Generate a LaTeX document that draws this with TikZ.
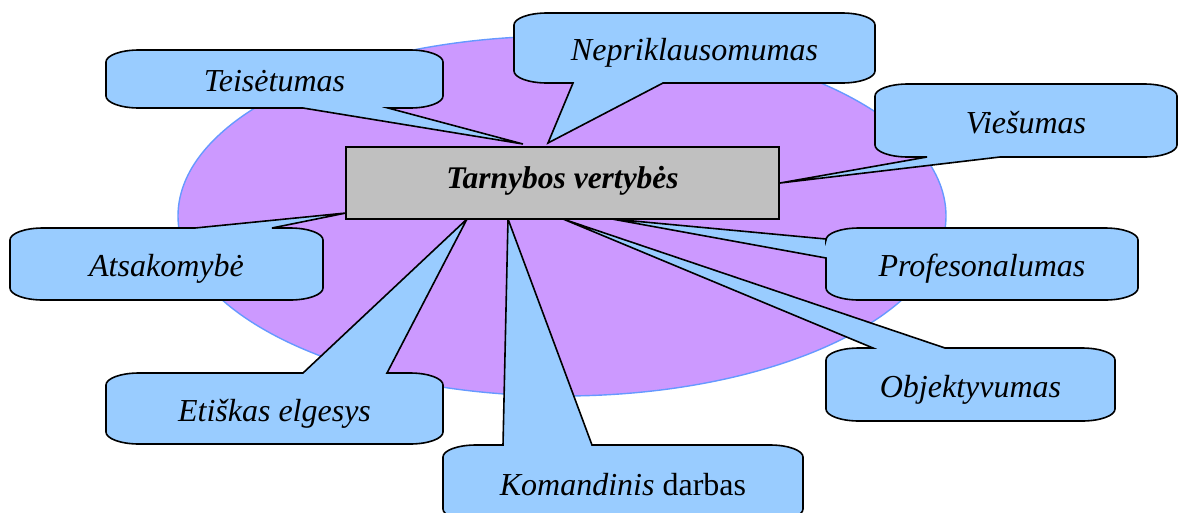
\documentclass[tikz,border=0pt]{standalone}
\usepackage{fontspec}
\setmainfont{Liberation Serif}
\usetikzlibrary{backgrounds}
\definecolor{ovalfill}{HTML}{CC99FF}
\definecolor{ovaledge}{HTML}{6699FF}
\definecolor{bubfill}{HTML}{99CCFF}
\definecolor{boxfill}{HTML}{C0C0C0}
\newcommand{\bubrx}{33pt}
\newcommand{\bubry}{12pt}
\newcommand{\bubble}[5]{%
  \path[bubble] ([xshift=\bubrx]#1.north west) #2
    -- ([xshift=-\bubrx]#1.north east) arc[start angle=90, end angle=0, x radius=\bubrx, y radius=\bubry] #3
    -- ([yshift=\bubry]#1.south east) arc[start angle=0, end angle=-90, x radius=\bubrx, y radius=\bubry] #4
    -- ([xshift=\bubrx]#1.south west) arc[start angle=270, end angle=180, x radius=\bubrx, y radius=\bubry] #5
    -- ([yshift=-\bubry]#1.north west) arc[start angle=180, end angle=90, x radius=\bubrx, y radius=\bubry]
    -- cycle;}

\begin{document}
\begin{tikzpicture}[x=1pt, y=-1pt,
        oval/.style={draw=ovaledge, fill=ovalfill, line width=1.4pt},
        bubble/.style={draw, fill=bubfill, line width=1.6pt},
        bubtext/.style={inner sep=0pt, outer sep=0pt, text height=26pt, text depth=1pt,
          font=\fontsize{32}{36}\selectfont\itshape},
        titlebox/.style={draw, fill=boxfill, line width=2.6pt, inner sep=0pt, outer sep=0pt,
          minimum width=433, minimum height=72, text height=20pt, text depth=10pt,
          font=\fontsize{31.5}{36}\selectfont\bfseries\itshape}]
     \useasboundingbox (0,0) rectangle (1178,512);
     \node (tv) at (562.5,183) [titlebox] {Tarnybos vertybės};
     \node (teis) at (274.5,79) [bubtext, minimum width=337, minimum height=58] {Teisėtumas};
     \node (nepr) at (694.5,48) [bubtext, minimum width=361, minimum height=70] {Nepriklausomumas};
     \node (vies) at (1026,120.5) [bubtext, minimum width=302, minimum height=73] {Viešumas};
     \node (atsak) at (166.5,264) [bubtext, minimum width=313, minimum height=72] {Atsakomybė};
     \node (prof) at (982,264) [bubtext, minimum width=312, minimum height=72] {Profesonalumas};
     \node (etis) at (274.5,408.5) [bubtext, minimum width=337, minimum height=71] {Etiškas elgesys};
     \node (obj) at (970.5,384.5) [bubtext, minimum width=289, minimum height=73] {Objektyvumas};
     \node (kom) at (623,483) [bubtext, minimum width=360, minimum height=76] {Komandinis {\upshape darbas}};
     \coordinate (pTeis) at (523,144);
     \coordinate (pNepr) at (548,143);
     \coordinate (pVies) at (780,183);
     \coordinate (pAtsak) at (346,213);
     \coordinate (pProf) at (612,219);
     \coordinate (pObj) at (563,219);
     \coordinate (pKom) at (508,219);
     \coordinate (pEtis) at (467,219);
     \begin{pgfonlayer}{background}
      \draw[oval] (562,216) ellipse [x radius=384pt, y radius=180pt];
      \bubble{teis}{}{}{-- (388,108) -- (pTeis) -- (303,108)}{}
      \bubble{nepr}{}{}{-- (663,83) -- (pNepr) -- (573,83)}{}
      \bubble{vies}{}{}{-- (1000,157) -- (pVies) -- (927,157)}{}
      \bubble{atsak}{-- (195,228) -- (pAtsak) -- (272,228)}{}{}{}
      \bubble{prof}{}{}{}{-- (826,258) -- (pProf) -- (826,239)}
      \bubble{etis}{-- (303,373) -- (pEtis) -- (387,373)}{}{}{}
      \bubble{obj}{-- (873,348) -- (pObj) -- (945,348)}{}{}{}
      \bubble{kom}{-- (503,445) -- (pKom) -- (592,445)}{}{}{}
     \end{pgfonlayer}
    \end{tikzpicture}
\end{document}
